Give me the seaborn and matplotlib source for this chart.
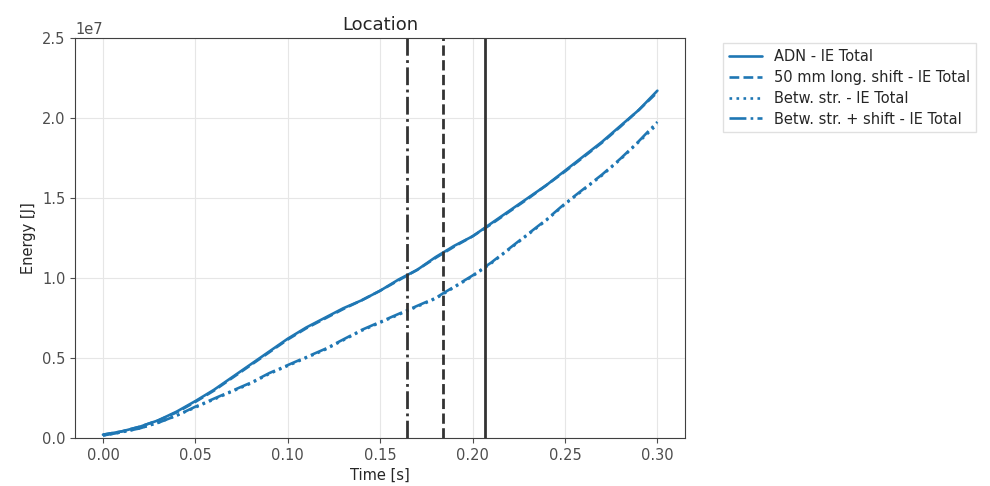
import numpy as np
import pandas as pd
import matplotlib
matplotlib.use('Agg')
import matplotlib.pyplot as plt
import seaborn as sns

# Time axis [s]
time_s = [0.00, 0.01, 0.02, 0.03, 0.04, 0.05, 0.06, 0.07, 0.08, 0.09, 0.10,
          0.11, 0.12, 0.13, 0.14, 0.15, 0.16, 0.17, 0.18, 0.19, 0.20,
          0.21, 0.22, 0.23, 0.24, 0.25, 0.26, 0.27, 0.28, 0.29, 0.30]

# Internal energy totals [1e6 J]
adn_ie = [0.2, 0.4, 0.7, 1.1, 1.65, 2.3, 3.0, 3.8, 4.6, 5.4, 6.2,
          6.9, 7.5, 8.1, 8.6, 9.2, 9.9, 10.5, 11.3, 12.0, 12.6,
          13.4, 14.2, 15.0, 15.8, 16.7, 17.6, 18.5, 19.5, 20.5, 21.7]
shift_ie = [0.2, 0.4, 0.7, 1.1, 1.6, 2.25, 2.95, 3.75, 4.55, 5.35, 6.15,
            6.85, 7.45, 8.05, 8.6, 9.2, 9.85, 10.5, 11.25, 11.95, 12.6,
            13.35, 14.15, 14.95, 15.8, 16.65, 17.55, 18.45, 19.45, 20.5, 21.6]
betw_ie = [0.15, 0.35, 0.6, 0.95, 1.4, 1.9, 2.4, 2.9, 3.4, 4.0, 4.5,
           5.0, 5.5, 6.1, 6.7, 7.2, 7.7, 8.2, 8.7, 9.4, 10.1,
           10.9, 11.8, 12.7, 13.6, 14.6, 15.5, 16.4, 17.4, 18.5, 19.6]
betw_shift_ie = [0.15, 0.35, 0.6, 0.95, 1.4, 1.95, 2.45, 2.95, 3.45, 4.05, 4.55,
                 5.05, 5.55, 6.15, 6.75, 7.25, 7.75, 8.25, 8.75, 9.45, 10.15,
                 10.95, 11.85, 12.75, 13.65, 14.65, 15.55, 16.45, 17.45, 18.55, 19.75]

series_names = ['ADN - IE Total', '50 mm long. shift - IE Total',
                'Betw. str. - IE Total', 'Betw. str. + shift - IE Total']
series_values = [adn_ie, shift_ie, betw_ie, betw_shift_ie]
series_styles = ['-', '--', ':', '-.']

# Event markers [s]
event_times = [0.1645, 0.184, 0.2066]
event_styles = ['-.', '--', '-']

sns.set_style('ticks')
plt.rcParams['font.family'] = ['DejaVu Sans']

fig = plt.figure(figsize=(9.9, 4.86), dpi=100)
ax = fig.add_axes([0.076, 0.099, 0.616, 0.823])

for name, vals, ls in zip(series_names, series_values, series_styles):
    df = pd.DataFrame({'t': time_s, 'E': np.array(vals) * 1e6})
    sns.lineplot(data=df, x='t', y='E', ax=ax, color='#1f77b4', linestyle=ls,
                 linewidth=1.9, label=name)

for t, ls in zip(event_times, event_styles):
    ax.axvline(t, color='0.2', linestyle=ls, linewidth=2)

ax.set_ylim(0, 2.5e7)
ax.set_xlim(-0.015, 0.315)
ax.grid(True, color='0.9', linewidth=0.8)
ax.set_title('Location', fontsize=13)
ax.set_xlabel('Time [s]', fontsize=10.5)
ax.set_ylabel('Energy [J]', fontsize=10.5)
ax.tick_params(labelsize=10.5, colors='0.3', labelcolor='0.3')
ax.yaxis.get_offset_text().set_fontsize(10.5)
for s in ax.spines.values():
    s.set_color('0.25')

ax.legend(loc='upper left', bbox_to_anchor=(1.05, 1.005), fontsize=10.5,
          labelspacing=0.4, handlelength=2.3,
          frameon=True, fancybox=False, edgecolor='0.85')

fig.savefig('out.png', dpi=100)
